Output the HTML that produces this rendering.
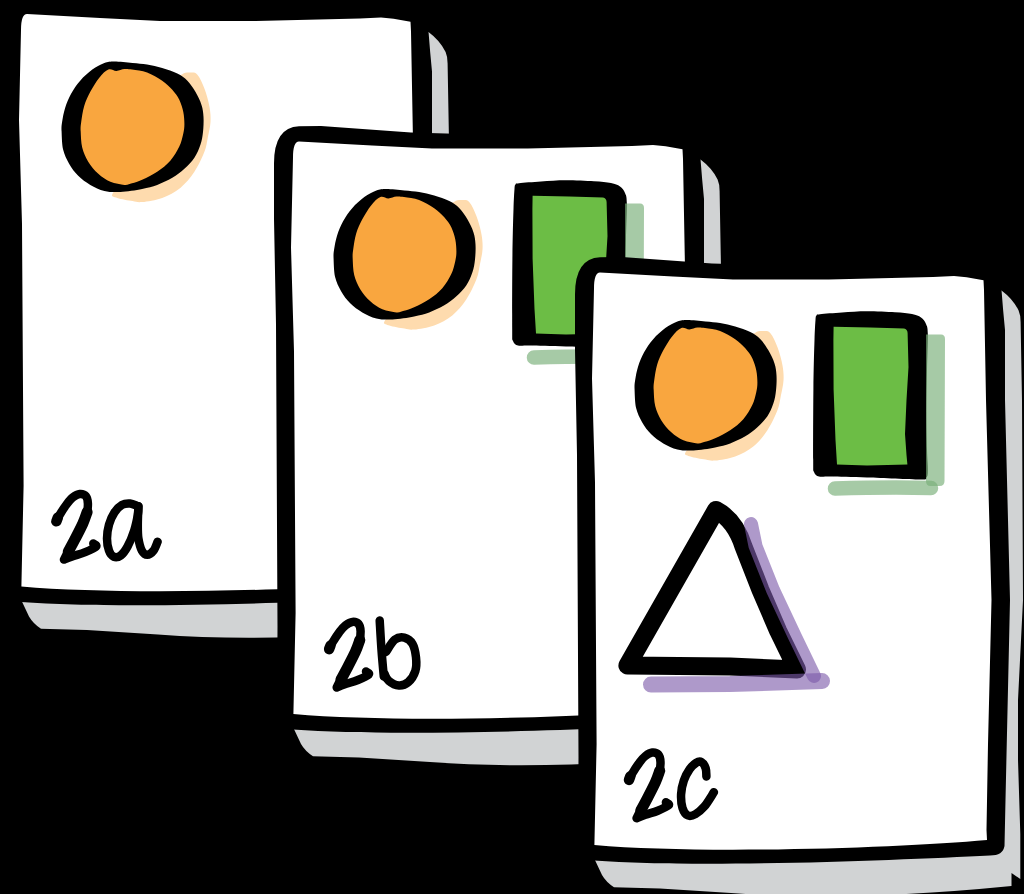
<!DOCTYPE html>
<html><head><meta charset="utf-8"><title>Cards 2a 2b 2c</title>
<style>html,body{margin:0;padding:0;background:#000;width:1024px;height:894px;overflow:hidden;font-family:"Liberation Sans",sans-serif}svg{display:block}</style>
</head><body>
<svg width="1024" height="894" viewBox="0 0 1024 894">
<rect width="1024" height="894" fill="#000"/>
<g transform="translate(-573 -258.5)">
<path d="M 998 290 L 1001.5 290.5 Q 1013 299 1018.6 310.5 Q 1020.6 315 1020.6 322 L 1022 400 L 1023 600 L 1018 700 L 1018 760 L 1020.3 834 L 1020.3 879 L 1011.5 873 L 1011.5 886 Q 850 902 731 893 L 660 888.5 L 614 887.3 Q 606 882 602 875 L 594 858 L 594 840 L 990 840 Z" fill="#d1d3d4"/>
<path d="M 600 257.3 L 622 257 L 712 263.5 L 800 266 L 996 266 Q 1001.5 270 1001.5 290 Q 1003 310 1005 330 L 1005 400 L 1010 600 L 1005.5 800 L 1004.5 846 Q 1003 855.5 990 855.5 C 900 860 700 868.5 594 860.5 L 578 858 L 578.5 757 L 577 455 L 575 350 L 575 296 Q 574.5 258.5 600 257.3 Z" fill="#000"/>
<path d="M 600 272.5 L 673 276.5 L 733 279.5 L 829 279.5 L 933 277 L 954 276 L 966.6 277.3 L 983.5 280.3 L 984 290 L 986 400 L 991.5 600 L 988 744 L 986.5 830 L 987 840 C 900 848 700 854.5 594.4 845 L 596.6 744 L 595 482.5 L 592 378.5 L 594 288.5 Q 594 272.5 600 272.5 Z" fill="#fff"/>
<path d="M 755.3 332.7 C 757.9 330.9 760.9 331.0 763.4 331.1 C 765.9 331.2 768.0 330.5 770.4 333.2 C 772.8 335.9 775.5 341.8 777.5 347.2 C 779.5 352.6 781.5 359.8 782.5 365.4 C 783.5 370.9 783.8 375.4 783.5 380.5 C 783.2 385.6 781.8 391.1 780.8 396.0 C 779.8 400.9 779.7 404.4 777.5 410.1 C 775.3 415.8 771.4 424.2 767.4 430.3 C 763.4 436.4 758.7 442.0 753.3 446.4 C 747.9 450.8 741.6 454.0 735.2 456.4 C 728.8 458.8 720.1 460.0 715.1 460.5 C 710.1 461.0 709.6 460.2 705.5 459.5 C 701.4 458.8 693.8 457.6 690.4 456.4 C 687.0 455.2 683.8 455.1 685.4 452.4 C 687.0 449.7 690.9 445.4 700.0 440.0 C 709.1 434.6 730.0 430.0 740.0 420.0 C 750.0 410.0 758.7 393.0 760.0 380.0 C 761.3 367.0 748.8 349.9 748.0 342.0 C 747.2 334.1 752.7 334.5 755.3 332.7 Z" fill="#fedbae"/>
<path d="M 687.4 320.1 C 692.1 320.1 700.0 321.1 705.5 321.6 C 711.0 322.1 715.1 322.3 720.1 323.1 C 725.1 323.9 730.2 325.1 735.2 326.6 C 740.2 328.1 746.1 330.0 750.3 332.1 C 754.5 334.2 757.4 336.2 760.4 339.2 C 763.4 342.2 766.0 346.3 768.4 350.3 C 770.8 354.3 773.1 359.2 774.5 363.4 C 775.9 367.6 776.2 370.9 776.5 375.4 C 776.8 379.9 776.5 385.9 776.0 390.5 C 775.5 395.1 774.9 398.8 773.5 403.1 C 772.1 407.4 770.1 412.2 767.4 416.2 C 764.7 420.2 761.1 423.8 757.4 427.2 C 753.7 430.6 749.8 433.6 745.3 436.3 C 740.8 439.0 735.2 441.5 730.2 443.4 C 725.2 445.2 721.2 446.2 715.1 447.4 C 709.0 448.6 699.8 450.1 693.5 450.4 C 687.2 450.7 682.4 450.6 677.4 449.4 C 672.4 448.2 667.7 445.9 663.3 443.4 C 658.9 440.9 654.7 437.8 651.2 434.3 C 647.7 430.8 644.6 426.6 642.1 422.2 C 639.6 417.8 637.4 413.5 636.1 408.1 C 634.9 402.7 634.8 394.6 634.6 390.0 C 634.4 385.4 634.5 384.4 635.1 380.5 C 635.7 376.6 636.6 371.1 638.1 366.4 C 639.6 361.7 641.6 356.8 644.1 352.3 C 646.6 347.8 649.7 343.2 653.2 339.2 C 656.7 335.2 661.3 331.0 665.3 328.1 C 669.3 325.2 673.7 322.9 677.4 321.6 C 681.1 320.3 682.7 320.1 687.4 320.1 Z" fill="#000"/>
<path d="M 681.4 328.1 C 684.2 327.0 686.7 329.6 689.4 329.5 C 692.1 329.4 694.9 327.8 697.5 327.6 C 700.1 327.4 701.2 327.5 705.0 328.1 C 708.8 328.7 715.1 329.2 720.1 331.1 C 725.1 333.0 731.0 336.3 735.2 339.2 C 739.4 342.1 742.4 345.1 745.3 348.3 C 748.1 351.5 750.5 354.6 752.3 358.3 C 754.1 362.0 755.4 366.4 756.3 370.4 C 757.1 374.4 757.4 378.9 757.4 382.5 C 757.4 386.1 757.1 388.2 756.3 392.0 C 755.4 395.8 754.5 400.6 752.3 405.1 C 750.1 409.6 747.0 415.0 743.3 419.2 C 739.6 423.4 734.9 427.1 730.2 430.3 C 725.5 433.5 719.3 436.4 715.1 438.3 C 710.9 440.2 707.9 441.0 705.0 441.8 C 702.1 442.6 701.1 443.6 697.5 443.4 C 693.9 443.1 687.8 442.1 683.4 440.3 C 679.0 438.5 675.0 435.7 671.3 432.3 C 667.6 428.9 663.9 424.6 661.2 420.2 C 658.5 415.8 656.5 411.1 655.2 406.1 C 654.0 401.1 653.9 394.3 653.7 390.0 C 653.5 385.7 653.6 384.8 654.2 380.5 C 654.8 376.2 655.7 369.4 657.2 364.4 C 658.7 359.4 660.8 355.0 663.3 350.3 C 665.8 345.6 669.3 339.9 672.3 336.2 C 675.3 332.5 678.5 329.2 681.4 328.1 Z" fill="#f9a63f"/>
</g>
<g fill="none" stroke="#000" stroke-width="8.5" stroke-linecap="round" stroke-linejoin="round"><path d="M 56.4 521.3 C 57.0 520.2 58.2 517.4 59.9 514.5 C 61.6 511.6 64.5 507.1 66.7 504.2 C 68.8 501.4 70.6 499.1 72.8 497.4 C 75.0 495.7 77.5 494.2 79.7 494.0 C 81.9 493.8 84.4 494.4 85.8 496.0 C 87.2 497.6 87.8 500.4 87.9 503.5 C 88.0 506.6 87.6 510.6 86.5 514.5 C 85.4 518.4 83.2 522.5 81.1 526.8 C 79.1 531.1 76.4 536.4 74.2 540.5 C 72.0 544.6 69.8 548.2 68.1 551.4 C 66.4 554.6 64.7 558.2 64.0 559.6  M 64.0 559.6 C 65.5 559.0 69.3 557.5 72.8 556.2 C 76.3 555.0 81.3 553.7 85.2 552.1 C 89.1 550.5 94.8 548.0 96.1 546.6 C 97.5 545.2 93.8 544.1 93.3 543.6 "/><path d="M 87.1 512.1 C 86.4 514.0 84.8 519.2 82.8 523.6 C 80.8 528.0 77.7 533.9 75.3 538.6 C 72.9 543.3 69.5 549.4 68.3 551.6 " stroke-width="11"/><path d="M 56.4 521.3 L 57.8 517.6" stroke-width="10.5"/><path d="M 137.8 506.2 C 136.5 505.8 132.8 503.7 130.2 503.5 C 127.6 503.3 124.6 503.4 122.0 504.9 C 119.4 506.4 116.7 509.1 114.5 512.4 C 112.3 515.7 110.2 520.4 109.0 524.7 C 107.8 529.0 107.0 534.1 107.0 538.4 C 107.0 542.7 107.9 547.6 109.0 550.7 C 110.1 553.8 111.8 556.0 113.8 556.8 C 115.8 557.6 118.4 557.2 120.7 555.5 C 123.0 553.8 125.2 550.8 127.5 546.6 C 129.8 542.4 132.6 535.5 134.3 530.2 C 136.0 525.0 137.1 519.1 137.8 515.1 C 138.5 511.1 138.3 507.7 138.4 506.2 "/><path d="M 138.4 506.2 C 138.3 509.3 137.8 519.3 137.8 524.7 C 137.8 530.1 137.7 534.1 138.4 538.4 C 139.1 542.7 140.4 548.0 141.9 550.7 C 143.4 553.4 145.4 554.8 147.3 554.8 C 149.2 554.8 151.8 552.9 153.5 550.7 C 155.2 548.5 156.9 543.3 157.6 541.8 "/></g>
<g transform="translate(-301 -131)">
<path d="M 998 290 L 1001.5 290.5 Q 1013 299 1018.6 310.5 Q 1020.6 315 1020.6 322 L 1022 400 L 1023 600 L 1018 700 L 1018 760 L 1020.3 834 L 1020.3 879 L 1011.5 873 L 1011.5 886 Q 850 902 731 893 L 660 888.5 L 614 887.3 Q 606 882 602 875 L 594 858 L 594 840 L 990 840 Z" fill="#d1d3d4"/>
<path d="M 600 257.3 L 622 257 L 712 263.5 L 800 266 L 996 266 Q 1001.5 270 1001.5 290 Q 1003 310 1005 330 L 1005 400 L 1010 600 L 1005.5 800 L 1004.5 846 Q 1003 855.5 990 855.5 C 900 860 700 868.5 594 860.5 L 578 858 L 578.5 757 L 577 455 L 575 350 L 575 296 Q 574.5 258.5 600 257.3 Z" fill="#000"/>
<path d="M 600 272.5 L 673 276.5 L 733 279.5 L 829 279.5 L 933 277 L 954 276 L 966.6 277.3 L 983.5 280.3 L 984 290 L 986 400 L 991.5 600 L 988 744 L 986.5 830 L 987 840 C 900 848 700 854.5 594.4 845 L 596.6 744 L 595 482.5 L 592 378.5 L 594 288.5 Q 594 272.5 600 272.5 Z" fill="#fff"/>
<path d="M 755.3 332.7 C 757.9 330.9 760.9 331.0 763.4 331.1 C 765.9 331.2 768.0 330.5 770.4 333.2 C 772.8 335.9 775.5 341.8 777.5 347.2 C 779.5 352.6 781.5 359.8 782.5 365.4 C 783.5 370.9 783.8 375.4 783.5 380.5 C 783.2 385.6 781.8 391.1 780.8 396.0 C 779.8 400.9 779.7 404.4 777.5 410.1 C 775.3 415.8 771.4 424.2 767.4 430.3 C 763.4 436.4 758.7 442.0 753.3 446.4 C 747.9 450.8 741.6 454.0 735.2 456.4 C 728.8 458.8 720.1 460.0 715.1 460.5 C 710.1 461.0 709.6 460.2 705.5 459.5 C 701.4 458.8 693.8 457.6 690.4 456.4 C 687.0 455.2 683.8 455.1 685.4 452.4 C 687.0 449.7 690.9 445.4 700.0 440.0 C 709.1 434.6 730.0 430.0 740.0 420.0 C 750.0 410.0 758.7 393.0 760.0 380.0 C 761.3 367.0 748.8 349.9 748.0 342.0 C 747.2 334.1 752.7 334.5 755.3 332.7 Z" fill="#fedbae"/>
<path d="M 687.4 320.1 C 692.1 320.1 700.0 321.1 705.5 321.6 C 711.0 322.1 715.1 322.3 720.1 323.1 C 725.1 323.9 730.2 325.1 735.2 326.6 C 740.2 328.1 746.1 330.0 750.3 332.1 C 754.5 334.2 757.4 336.2 760.4 339.2 C 763.4 342.2 766.0 346.3 768.4 350.3 C 770.8 354.3 773.1 359.2 774.5 363.4 C 775.9 367.6 776.2 370.9 776.5 375.4 C 776.8 379.9 776.5 385.9 776.0 390.5 C 775.5 395.1 774.9 398.8 773.5 403.1 C 772.1 407.4 770.1 412.2 767.4 416.2 C 764.7 420.2 761.1 423.8 757.4 427.2 C 753.7 430.6 749.8 433.6 745.3 436.3 C 740.8 439.0 735.2 441.5 730.2 443.4 C 725.2 445.2 721.2 446.2 715.1 447.4 C 709.0 448.6 699.8 450.1 693.5 450.4 C 687.2 450.7 682.4 450.6 677.4 449.4 C 672.4 448.2 667.7 445.9 663.3 443.4 C 658.9 440.9 654.7 437.8 651.2 434.3 C 647.7 430.8 644.6 426.6 642.1 422.2 C 639.6 417.8 637.4 413.5 636.1 408.1 C 634.9 402.7 634.8 394.6 634.6 390.0 C 634.4 385.4 634.5 384.4 635.1 380.5 C 635.7 376.6 636.6 371.1 638.1 366.4 C 639.6 361.7 641.6 356.8 644.1 352.3 C 646.6 347.8 649.7 343.2 653.2 339.2 C 656.7 335.2 661.3 331.0 665.3 328.1 C 669.3 325.2 673.7 322.9 677.4 321.6 C 681.1 320.3 682.7 320.1 687.4 320.1 Z" fill="#000"/>
<path d="M 681.4 328.1 C 684.2 327.0 686.7 329.6 689.4 329.5 C 692.1 329.4 694.9 327.8 697.5 327.6 C 700.1 327.4 701.2 327.5 705.0 328.1 C 708.8 328.7 715.1 329.2 720.1 331.1 C 725.1 333.0 731.0 336.3 735.2 339.2 C 739.4 342.1 742.4 345.1 745.3 348.3 C 748.1 351.5 750.5 354.6 752.3 358.3 C 754.1 362.0 755.4 366.4 756.3 370.4 C 757.1 374.4 757.4 378.9 757.4 382.5 C 757.4 386.1 757.1 388.2 756.3 392.0 C 755.4 395.8 754.5 400.6 752.3 405.1 C 750.1 409.6 747.0 415.0 743.3 419.2 C 739.6 423.4 734.9 427.1 730.2 430.3 C 725.5 433.5 719.3 436.4 715.1 438.3 C 710.9 440.2 707.9 441.0 705.0 441.8 C 702.1 442.6 701.1 443.6 697.5 443.4 C 693.9 443.1 687.8 442.1 683.4 440.3 C 679.0 438.5 675.0 435.7 671.3 432.3 C 667.6 428.9 663.9 424.6 661.2 420.2 C 658.5 415.8 656.5 411.1 655.2 406.1 C 654.0 401.1 653.9 394.3 653.7 390.0 C 653.5 385.7 653.6 384.8 654.2 380.5 C 654.8 376.2 655.7 369.4 657.2 364.4 C 658.7 359.4 660.8 355.0 663.3 350.3 C 665.8 345.6 669.3 339.9 672.3 336.2 C 675.3 332.5 678.5 329.2 681.4 328.1 Z" fill="#f9a63f"/>
<path d="M 820.0 314.2 C 824.2 313.7 834.2 313.0 842.0 312.5 C 849.8 312.0 858.2 311.3 867.0 311.3 C 875.8 311.3 887.5 311.9 895.0 312.3 C 902.5 312.8 907.7 313.1 912.0 314.0 C 916.3 314.9 918.7 315.8 921.0 317.5 C 923.3 319.2 924.9 321.2 926.0 324.0 C 927.1 326.8 927.6 326.3 927.8 334.0 C 928.0 341.7 927.2 357.0 927.0 370.0 C 926.8 383.0 926.5 398.7 926.5 412.0 C 926.5 425.3 926.8 440.3 927.0 450.0 C 927.2 459.7 927.9 465.4 927.8 470.0 C 927.7 474.6 927.8 475.9 926.5 477.5 C 925.2 479.1 929.9 479.5 920.0 479.5 C 910.1 479.5 882.0 478.0 867.0 477.5 C 852.0 477.0 838.0 476.7 830.0 476.5 C 822.0 476.3 821.7 477.2 819.0 476.5 C 816.3 475.8 815.0 474.8 814.0 472.0 C 813.0 469.2 813.3 473.8 813.2 460.0 C 813.1 446.2 813.2 409.5 813.4 389.5 C 813.6 369.5 814.1 351.6 814.5 340.0 C 814.9 328.4 815.2 324.1 815.5 320.0 C 815.8 315.9 815.8 316.5 816.5 315.5 C 817.2 314.5 815.8 314.7 820.0 314.2 Z" fill="#000"/>
<path d="M 833.6 326.8 L 870 327.5 L 904 328.5 Q 907.4 329 907.6 333 L 908.5 367 L 906.5 400 L 905 434 L 906.5 455 L 907.4 464.4 L 867 465.5 L 837 464.4 L 835.5 440 L 833.6 389.5 L 833.4 340 Z" fill="#6cbd45"/>
<path d="M 926 334.5 L 941 334.5 Q 945 334.5 945 339 L 944.5 481 Q 944.5 486 939.5 486 L 930.5 486 Q 926 486 926 481 Z" fill="rgb(120,175,120)" fill-opacity="0.66"/>
<path d="M 835 488.5 Q 890 487 931 488" fill="none" stroke="rgb(120,175,120)" stroke-opacity="0.66" stroke-linecap="round" stroke-width="14.5"/>
</g>
<g fill="none" stroke="#000" stroke-width="8.5" stroke-linecap="round" stroke-linejoin="round"><path d="M 329.1 649.2 C 329.7 648.1 330.9 645.2 332.6 642.4 C 334.3 639.5 337.2 635.0 339.4 632.1 C 341.5 629.2 343.3 627.0 345.5 625.3 C 347.7 623.6 350.2 622.1 352.4 621.9 C 354.6 621.7 357.1 622.3 358.5 623.9 C 359.9 625.5 360.5 628.3 360.6 631.4 C 360.7 634.5 360.3 638.5 359.2 642.4 C 358.1 646.3 355.9 650.4 353.8 654.7 C 351.8 659.0 349.1 664.3 346.9 668.4 C 344.7 672.5 342.5 676.1 340.8 679.3 C 339.1 682.5 337.4 686.1 336.7 687.5  M 336.7 687.5 C 338.2 686.9 342.0 685.4 345.5 684.1 C 349.0 682.9 354.0 681.6 357.9 680.0 C 361.8 678.4 367.4 675.9 368.8 674.5 C 370.2 673.1 366.5 672.0 366.0 671.5 "/><path d="M 359.8 640.0 C 359.1 641.9 357.5 647.1 355.5 651.5 C 353.5 655.9 350.4 661.8 348.0 666.5 C 345.6 671.2 342.2 677.3 341.0 679.5 " stroke-width="11"/><path d="M 329.1 649.2 L 330.5 645.5" stroke-width="10.5"/><path d="M 379.7 620.5 C 380.0 625.4 380.8 640.6 381.5 650.0 C 382.2 659.4 383.4 672.2 383.8 676.6 "/><path d="M 385.9 652.0 C 387.4 650.0 391.7 642.1 394.8 639.7 C 397.9 637.3 401.4 636.9 404.3 637.6 C 407.2 638.3 410.6 640.5 412.5 643.8 C 414.4 647.1 415.5 652.8 416.0 657.4 C 416.5 662.0 416.6 667.0 415.3 671.1 C 414.0 675.2 411.1 679.6 408.4 682.0 C 405.7 684.4 402.2 685.7 398.9 685.5 C 395.6 685.3 391.0 682.7 388.6 680.7 C 386.2 678.8 385.2 674.9 384.5 673.8 "/></g>
<g transform="translate(0 0)">
<path d="M 998 290 L 1001.5 290.5 Q 1013 299 1018.6 310.5 Q 1020.6 315 1020.6 322 L 1022 400 L 1023 600 L 1018 700 L 1018 760 L 1020.3 834 L 1020.3 879 L 1011.5 873 L 1011.5 886 Q 850 902 731 893 L 660 888.5 L 614 887.3 Q 606 882 602 875 L 594 858 L 594 840 L 990 840 Z" fill="#d1d3d4"/>
<path d="M 600 257.3 L 622 257 L 712 263.5 L 800 266 L 996 266 Q 1001.5 270 1001.5 290 Q 1003 310 1005 330 L 1005 400 L 1010 600 L 1005.5 800 L 1004.5 846 Q 1003 855.5 990 855.5 C 900 860 700 868.5 594 860.5 L 578 858 L 578.5 757 L 577 455 L 575 350 L 575 296 Q 574.5 258.5 600 257.3 Z" fill="#000"/>
<path d="M 600 272.5 L 673 276.5 L 733 279.5 L 829 279.5 L 933 277 L 954 276 L 966.6 277.3 L 983.5 280.3 L 984 290 L 986 400 L 991.5 600 L 988 744 L 986.5 830 L 987 840 C 900 848 700 854.5 594.4 845 L 596.6 744 L 595 482.5 L 592 378.5 L 594 288.5 Q 594 272.5 600 272.5 Z" fill="#fff"/>
<path d="M 755.3 332.7 C 757.9 330.9 760.9 331.0 763.4 331.1 C 765.9 331.2 768.0 330.5 770.4 333.2 C 772.8 335.9 775.5 341.8 777.5 347.2 C 779.5 352.6 781.5 359.8 782.5 365.4 C 783.5 370.9 783.8 375.4 783.5 380.5 C 783.2 385.6 781.8 391.1 780.8 396.0 C 779.8 400.9 779.7 404.4 777.5 410.1 C 775.3 415.8 771.4 424.2 767.4 430.3 C 763.4 436.4 758.7 442.0 753.3 446.4 C 747.9 450.8 741.6 454.0 735.2 456.4 C 728.8 458.8 720.1 460.0 715.1 460.5 C 710.1 461.0 709.6 460.2 705.5 459.5 C 701.4 458.8 693.8 457.6 690.4 456.4 C 687.0 455.2 683.8 455.1 685.4 452.4 C 687.0 449.7 690.9 445.4 700.0 440.0 C 709.1 434.6 730.0 430.0 740.0 420.0 C 750.0 410.0 758.7 393.0 760.0 380.0 C 761.3 367.0 748.8 349.9 748.0 342.0 C 747.2 334.1 752.7 334.5 755.3 332.7 Z" fill="#fedbae"/>
<path d="M 687.4 320.1 C 692.1 320.1 700.0 321.1 705.5 321.6 C 711.0 322.1 715.1 322.3 720.1 323.1 C 725.1 323.9 730.2 325.1 735.2 326.6 C 740.2 328.1 746.1 330.0 750.3 332.1 C 754.5 334.2 757.4 336.2 760.4 339.2 C 763.4 342.2 766.0 346.3 768.4 350.3 C 770.8 354.3 773.1 359.2 774.5 363.4 C 775.9 367.6 776.2 370.9 776.5 375.4 C 776.8 379.9 776.5 385.9 776.0 390.5 C 775.5 395.1 774.9 398.8 773.5 403.1 C 772.1 407.4 770.1 412.2 767.4 416.2 C 764.7 420.2 761.1 423.8 757.4 427.2 C 753.7 430.6 749.8 433.6 745.3 436.3 C 740.8 439.0 735.2 441.5 730.2 443.4 C 725.2 445.2 721.2 446.2 715.1 447.4 C 709.0 448.6 699.8 450.1 693.5 450.4 C 687.2 450.7 682.4 450.6 677.4 449.4 C 672.4 448.2 667.7 445.9 663.3 443.4 C 658.9 440.9 654.7 437.8 651.2 434.3 C 647.7 430.8 644.6 426.6 642.1 422.2 C 639.6 417.8 637.4 413.5 636.1 408.1 C 634.9 402.7 634.8 394.6 634.6 390.0 C 634.4 385.4 634.5 384.4 635.1 380.5 C 635.7 376.6 636.6 371.1 638.1 366.4 C 639.6 361.7 641.6 356.8 644.1 352.3 C 646.6 347.8 649.7 343.2 653.2 339.2 C 656.7 335.2 661.3 331.0 665.3 328.1 C 669.3 325.2 673.7 322.9 677.4 321.6 C 681.1 320.3 682.7 320.1 687.4 320.1 Z" fill="#000"/>
<path d="M 681.4 328.1 C 684.2 327.0 686.7 329.6 689.4 329.5 C 692.1 329.4 694.9 327.8 697.5 327.6 C 700.1 327.4 701.2 327.5 705.0 328.1 C 708.8 328.7 715.1 329.2 720.1 331.1 C 725.1 333.0 731.0 336.3 735.2 339.2 C 739.4 342.1 742.4 345.1 745.3 348.3 C 748.1 351.5 750.5 354.6 752.3 358.3 C 754.1 362.0 755.4 366.4 756.3 370.4 C 757.1 374.4 757.4 378.9 757.4 382.5 C 757.4 386.1 757.1 388.2 756.3 392.0 C 755.4 395.8 754.5 400.6 752.3 405.1 C 750.1 409.6 747.0 415.0 743.3 419.2 C 739.6 423.4 734.9 427.1 730.2 430.3 C 725.5 433.5 719.3 436.4 715.1 438.3 C 710.9 440.2 707.9 441.0 705.0 441.8 C 702.1 442.6 701.1 443.6 697.5 443.4 C 693.9 443.1 687.8 442.1 683.4 440.3 C 679.0 438.5 675.0 435.7 671.3 432.3 C 667.6 428.9 663.9 424.6 661.2 420.2 C 658.5 415.8 656.5 411.1 655.2 406.1 C 654.0 401.1 653.9 394.3 653.7 390.0 C 653.5 385.7 653.6 384.8 654.2 380.5 C 654.8 376.2 655.7 369.4 657.2 364.4 C 658.7 359.4 660.8 355.0 663.3 350.3 C 665.8 345.6 669.3 339.9 672.3 336.2 C 675.3 332.5 678.5 329.2 681.4 328.1 Z" fill="#f9a63f"/>
<path d="M 820.0 314.2 C 824.2 313.7 834.2 313.0 842.0 312.5 C 849.8 312.0 858.2 311.3 867.0 311.3 C 875.8 311.3 887.5 311.9 895.0 312.3 C 902.5 312.8 907.7 313.1 912.0 314.0 C 916.3 314.9 918.7 315.8 921.0 317.5 C 923.3 319.2 924.9 321.2 926.0 324.0 C 927.1 326.8 927.6 326.3 927.8 334.0 C 928.0 341.7 927.2 357.0 927.0 370.0 C 926.8 383.0 926.5 398.7 926.5 412.0 C 926.5 425.3 926.8 440.3 927.0 450.0 C 927.2 459.7 927.9 465.4 927.8 470.0 C 927.7 474.6 927.8 475.9 926.5 477.5 C 925.2 479.1 929.9 479.5 920.0 479.5 C 910.1 479.5 882.0 478.0 867.0 477.5 C 852.0 477.0 838.0 476.7 830.0 476.5 C 822.0 476.3 821.7 477.2 819.0 476.5 C 816.3 475.8 815.0 474.8 814.0 472.0 C 813.0 469.2 813.3 473.8 813.2 460.0 C 813.1 446.2 813.2 409.5 813.4 389.5 C 813.6 369.5 814.1 351.6 814.5 340.0 C 814.9 328.4 815.2 324.1 815.5 320.0 C 815.8 315.9 815.8 316.5 816.5 315.5 C 817.2 314.5 815.8 314.7 820.0 314.2 Z" fill="#000"/>
<path d="M 833.6 326.8 L 870 327.5 L 904 328.5 Q 907.4 329 907.6 333 L 908.5 367 L 906.5 400 L 905 434 L 906.5 455 L 907.4 464.4 L 867 465.5 L 837 464.4 L 835.5 440 L 833.6 389.5 L 833.4 340 Z" fill="#6cbd45"/>
<path d="M 926 334.5 L 941 334.5 Q 945 334.5 945 339 L 944.5 481 Q 944.5 486 939.5 486 L 930.5 486 Q 926 486 926 481 Z" fill="rgb(120,175,120)" fill-opacity="0.66"/>
<path d="M 835 488.5 Q 890 487 931 488" fill="none" stroke="rgb(120,175,120)" stroke-opacity="0.66" stroke-linecap="round" stroke-width="14.5"/>
<path d="M 716 510 L 627.4 665.5 L 730 666.5 L 797 669.5 L 778 630.6 L 760.5 590 L 743.5 546.4 Q 735 520 716 510 Z" fill="none" stroke="#000" stroke-width="18" stroke-linejoin="round"/>
<g stroke="rgb(125,90,170)" stroke-opacity="0.62" stroke-linecap="round" stroke-linejoin="round" fill="none"><path d="M 751 524 L 755.5 546 L 773 590 L 795 636.8 L 814 676" stroke-width="14"/><path d="M 651 684.5 L 730 684 L 822 681" stroke-width="16"/></g>
</g>
<g fill="none" stroke="#000" stroke-width="8.5" stroke-linecap="round" stroke-linejoin="round"><path d="M 629.0 779.9 C 629.6 778.8 630.8 775.9 632.5 773.1 C 634.2 770.2 637.1 765.6 639.3 762.8 C 641.4 759.9 643.2 757.7 645.4 756.0 C 647.6 754.3 650.1 752.8 652.3 752.6 C 654.5 752.4 657.0 753.0 658.4 754.6 C 659.8 756.2 660.4 759.0 660.5 762.1 C 660.6 765.2 660.2 769.2 659.1 773.1 C 658.0 777.0 655.8 781.1 653.7 785.4 C 651.7 789.7 649.0 795.0 646.8 799.1 C 644.6 803.2 642.4 806.8 640.7 810.0 C 639.0 813.2 637.3 816.8 636.6 818.2  M 636.6 818.2 C 638.1 817.6 641.9 816.0 645.4 814.8 C 648.9 813.5 653.9 812.3 657.8 810.7 C 661.7 809.1 667.4 806.6 668.7 805.2 C 670.1 803.8 666.4 802.7 665.9 802.2 "/><path d="M 659.7 770.7 C 659.0 772.6 657.4 777.8 655.4 782.2 C 653.4 786.6 650.3 792.5 647.9 797.2 C 645.5 801.9 642.1 808.0 640.9 810.2 " stroke-width="11"/><path d="M 629.0 779.9 L 630.4 776.2" stroke-width="10.5"/><path d="M 706.4 776.5 C 706.3 775.1 706.5 770.7 705.7 768.3 C 704.9 765.9 703.2 763.0 701.6 762.1 C 700.0 761.2 698.2 761.5 696.1 762.8 C 694.0 764.1 691.3 766.7 689.3 769.7 C 687.2 772.7 685.2 776.5 683.8 780.6 C 682.4 784.7 681.3 789.8 681.1 794.3 C 680.9 798.8 681.4 804.4 682.5 807.9 C 683.6 811.4 685.7 814.5 687.9 815.5 C 690.1 816.5 692.8 815.6 695.5 814.1 C 698.2 812.6 701.2 810.2 704.3 806.6 C 707.4 803.0 712.3 794.6 713.9 792.2 "/></g>
</svg>
</body></html>
